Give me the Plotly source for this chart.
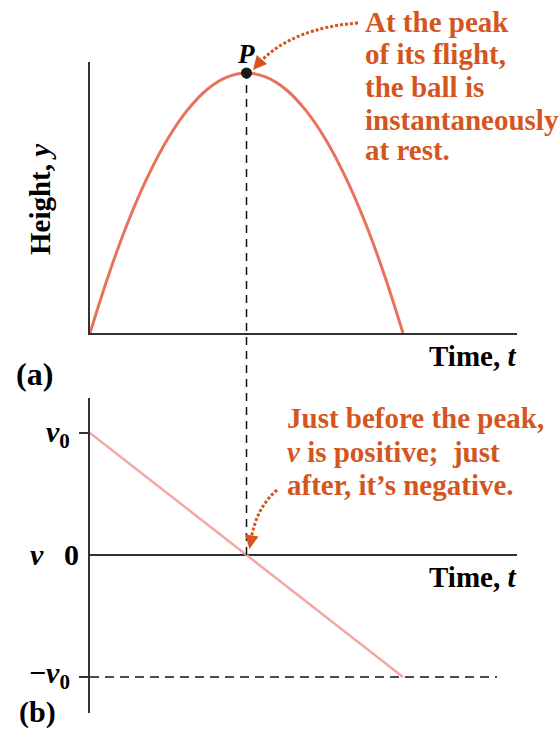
import plotly.graph_objects as go

# ---- data (t in units of time-to-peak) ----
t_height = [0, 0.125, 0.25, 0.375, 0.5, 0.625, 0.75, 0.875, 1.0,
            1.125, 1.25, 1.375, 1.5, 1.625, 1.75, 1.875, 2.0]
height = [0, 0.234, 0.4375, 0.609, 0.75, 0.859, 0.9375, 0.984, 1.0,
          0.984, 0.9375, 0.859, 0.75, 0.609, 0.4375, 0.234, 0]
t_vel = [0, 2.0]
velocity = [1.0, -1.0]
peak_t = [1.0]
peak_y = [1.0]
v_ticks = [1, -1]

W, H = 560, 731
def px(x):
    return x / W
def py(y):
    return 1 - y / H

X_PER_T = 156.5
T_MAX = (517 - 90) / X_PER_T
SERIF = "Liberation Serif, Times New Roman, serif"
ORANGE = "#D4561E"
AX = "#333333"

fig = go.Figure()
fig.add_trace(go.Scatter(x=t_height, y=height, mode="lines",
                         line=dict(color="#E8735C", width=3, shape="spline"),
                         xaxis="x", yaxis="y", hoverinfo="skip"))
fig.add_trace(go.Scatter(x=peak_t, y=peak_y, mode="markers",
                         marker=dict(color="#1a1a1a", size=11),
                         xaxis="x", yaxis="y", cliponaxis=False, hoverinfo="skip"))
fig.add_trace(go.Scatter(x=t_vel, y=velocity, mode="lines",
                         line=dict(color="#F3A8A6", width=2.5),
                         xaxis="x2", yaxis="y2", hoverinfo="skip"))

fig.update_layout(
    width=W, height=H, margin=dict(l=0, r=0, t=0, b=0),
    paper_bgcolor="white", plot_bgcolor="white", showlegend=False,
    xaxis=dict(domain=[px(90), px(517)], range=[0, T_MAX], showgrid=False,
               zeroline=False, showticklabels=False, showline=True,
               linecolor=AX, linewidth=2, anchor="y"),
    yaxis=dict(domain=[py(333), py(62)], range=[0, (333 - 62) / 260],
               showgrid=False, zeroline=False, showticklabels=False,
               showline=True, linecolor=AX, linewidth=2, anchor="x"),
    xaxis2=dict(domain=[px(90), px(517)], range=[0, T_MAX], showgrid=False,
                zeroline=False, showticklabels=False, showline=False, anchor="y2"),
    yaxis2=dict(domain=[py(713), py(398)],
                range=[-(713 - 555) / 122, (555 - 398) / 122],
                showgrid=False, zeroline=True, zerolinecolor=AX, zerolinewidth=2,
                showticklabels=False, showline=True, linecolor=AX, linewidth=2,
                tickvals=v_ticks, ticks="outside", ticklen=9, tickwidth=2,
                tickcolor=AX, anchor="x2"),
)

# dashed guide from the peak down to v = 0
fig.add_shape(type="line", xref="x", yref="paper", x0=peak_t[0], x1=peak_t[0],
              y0=py(555), y1=py(73),
              line=dict(color="#111111", width=1.5, dash="8px,6px"))
# dashed line at -v0
fig.add_shape(type="line", xref="x2", yref="y2", x0=0, x1=(497 - 90) / X_PER_T,
              y0=-1, y1=-1, line=dict(color="#111111", width=1.5, dash="9px,6px"))

# dotted curved arrows
def qpath(p0, c, p1):
    return (f"M {px(p0[0])} {py(p0[1])} Q {px(c[0])} {py(c[1])} "
            f"{px(p1[0])} {py(p1[1])}")
fig.add_shape(type="path", xref="paper", yref="paper",
              path=qpath((358, 23), (292, 28), (259, 63)),
              line=dict(color=ORANGE, width=3, dash="3px,2px"))
fig.add_shape(type="path", xref="paper", yref="paper",
              path=qpath((277, 490), (256, 508), (251, 540)),
              line=dict(color=ORANGE, width=3, dash="3px,2px"))

ann = []
def text(x, y, s, size=29, color="black", xanchor="left", angle=0):
    ann.append(dict(x=px(x), y=py(y), xref="paper", yref="paper", text=s,
                    showarrow=False, xanchor=xanchor, yanchor="middle",
                    textangle=angle,
                    font=dict(family=SERIF, size=size, color=color)))

for i, line in enumerate(["<b>At the peak</b>", "<b>of its flight,</b>",
                          "<b>the ball is</b>", "<b>instantaneously</b>",
                          "<b>at rest.</b>"]):
    text(363, [22, 54, 87, 120, 150][i], line, size=29, color=ORANGE)
for i, line in enumerate(["<b>Just before the peak,</b>",
                          "<b><i>v</i> is positive;  just</b>",
                          "<b>after, it’s negative.</b>"]):
    text(285, [418, 452, 485][i], line, size=29, color=ORANGE)

text(246, 54, "<b><i>P</i></b>", size=27, xanchor="center")
text(518, 356, "<b>Time, <i>t</i></b>", size=29, xanchor="right")
text(518, 577, "<b>Time, <i>t</i></b>", size=29, xanchor="right")
text(14, 374, "<b>(a)</b>", size=32)
text(17, 712, "<b>(b)</b>", size=30)
text(40, 200, "<b>Height, <i>y</i></b>", size=29, xanchor="center", angle=-90)
text(72, 434, "<b><i>v</i><sub>0</sub></b>", size=30, xanchor="right")
text(72, 675, "<b>−<i>v</i><sub>0</sub></b>", size=30, xanchor="right")
text(81, 554, "<b>0</b>", size=30, xanchor="right")
text(37, 554, "<b><i>v</i></b>", size=30, xanchor="center")

# arrowheads
ann.append(dict(x=px(253), y=py(70), xref="paper", yref="paper", text="",
                showarrow=True, arrowhead=2, arrowsize=1.1, arrowwidth=2.5,
                arrowcolor=ORANGE, ax=6, ay=-7))
ann.append(dict(x=px(249.5), y=py(549), xref="paper", yref="paper", text="",
                showarrow=True, arrowhead=2, arrowsize=1.1, arrowwidth=2.5,
                arrowcolor=ORANGE, ax=1.5, ay=-9))
fig.update_layout(annotations=ann)

fig.write_html("out.html", config={"displayModeBar": False},
               post_script="document.body.style.margin='0';"
                           "document.body.style.overflow='hidden';")
